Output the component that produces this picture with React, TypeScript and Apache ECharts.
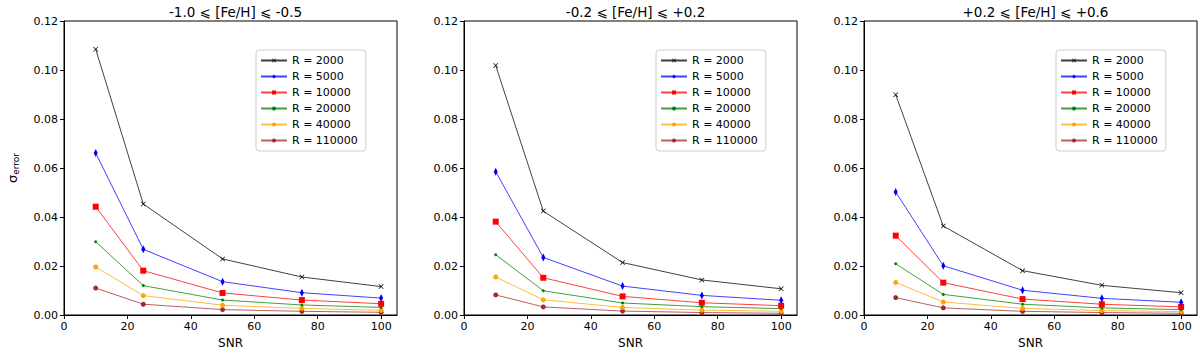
import React, { useEffect, useRef } from "react";
import * as echarts from "echarts";

const snr = [10, 25, 50, 75, 100];
const seriesNames = ["R = 2000", "R = 5000", "R = 10000", "R = 20000", "R = 40000", "R = 110000"];
const colors = ["#000000", "#0000ff", "#ff0000", "#008000", "#ffa500", "#a52a2a"];
const panelTitles = ["-1.0 ⩽ [Fe/H] ⩽ -0.5", "-0.2 ⩽ [Fe/H] ⩽ +0.2", "+0.2 ⩽ [Fe/H] ⩽ +0.6"];
const xTicks = [0, 20, 40, 60, 80, 100];

const metalPoor = [
  [0.1085, 0.0453, 0.0229, 0.0155, 0.0116],
  [0.0661, 0.0268, 0.0136, 0.0091, 0.0069],
  [0.0442, 0.0181, 0.009, 0.0061, 0.0046],
  [0.0299, 0.012, 0.0061, 0.0041, 0.0031],
  [0.0196, 0.0079, 0.004, 0.0027, 0.0019],
  [0.011, 0.0044, 0.0022, 0.0015, 0.0011],
];
const solar = [
  [0.1018, 0.0424, 0.0214, 0.0143, 0.0107],
  [0.0585, 0.0235, 0.0118, 0.008, 0.006],
  [0.0381, 0.0152, 0.0076, 0.005, 0.0038],
  [0.0246, 0.0099, 0.0049, 0.0034, 0.0026],
  [0.0155, 0.0062, 0.0031, 0.002, 0.0015],
  [0.0082, 0.0033, 0.0016, 0.001, 0.0007],
];
const metalRich = [
  [0.0899, 0.0363, 0.0181, 0.0121, 0.0091],
  [0.0502, 0.0201, 0.0101, 0.0068, 0.0052],
  [0.0324, 0.0132, 0.0065, 0.0044, 0.0033],
  [0.0209, 0.0084, 0.0044, 0.0029, 0.0022],
  [0.0133, 0.0053, 0.0027, 0.0018, 0.0014],
  [0.0071, 0.0029, 0.0015, 0.001, 0.0007],
];
const panels = [metalPoor, solar, metalRich];

const xMark = "path://M0,1 L1,0 L5,4 L9,0 L10,1 L6,5 L10,9 L9,10 L5,6 L1,10 L0,9 L4,5 Z";
const symbols: any[] = [xMark, "diamond", "rect", "circle", "circle", "circle"];
const symbolSizes: any[] = [5, [4, 8], 6, 3, 5, 5];

const FONT = "DejaVu Sans";

export default function App() {
  const ref = useRef<HTMLDivElement>(null);
  useEffect(() => {
    if (!ref.current) return;
    const chart = echarts.init(ref.current, null, { renderer: "svg" });
    const lefts = [64, 464, 864];
    const W = 333;
    const grids = lefts.map((l) => ({
      left: l,
      top: 21,
      width: W,
      height: 294,
      show: true,
      borderColor: "#000",
      borderWidth: 1,
      backgroundColor: "transparent",
    }));
    const xAxes = lefts.map((_, i) => ({
      type: "value",
      gridIndex: i,
      min: 0,
      max: 105,
      interval: 20,
      name: "SNR",
      nameLocation: "middle",
      nameGap: 22,
      nameTextStyle: { fontFamily: FONT, fontSize: 12, color: "#000" },
      axisLine: { show: true, lineStyle: { color: "#000", width: 1 } },
      axisTick: { show: true, length: 4, lineStyle: { color: "#000" }, customValues: xTicks },
      axisLabel: {
        fontFamily: FONT,
        fontSize: 11,
        color: "#000",
        margin: 6,
        customValues: xTicks,
        formatter: (v: number) => String(v),
      },
      splitLine: { show: false },
    }));
    const yAxes = lefts.map((_, i) => ({
      type: "value",
      gridIndex: i,
      min: 0,
      max: 0.12,
      interval: 0.02,
      name: i === 0 ? "{a|σ}{b|error}" : "",
      nameLocation: "middle",
      nameGap: 44,
      nameRotate: 90,
      nameTextStyle: {
        fontFamily: FONT,
        color: "#000",
        rich: {
          a: { fontFamily: FONT, fontSize: 13, color: "#000" },
          b: { fontFamily: FONT, fontSize: 9, color: "#000", padding: [6, 0, 0, 0] },
        },
      },
      axisLine: { show: true, lineStyle: { color: "#000", width: 1 } },
      axisTick: { show: true, length: 4, lineStyle: { color: "#000" } },
      axisLabel: {
        fontFamily: FONT,
        fontSize: 11,
        color: "#000",
        margin: 6,
        formatter: (v: number) => v.toFixed(2),
      },
      splitLine: { show: false },
    }));
    const series: any[] = [];
    panels.forEach((panel, p) => {
      panel.forEach((vals, s) => {
        series.push({
          type: "line",
          name: seriesNames[s],
          xAxisIndex: p,
          yAxisIndex: p,
          data: snr.map((x, k) => [x, vals[k]]),
          symbol: symbols[s],
          symbolSize: symbolSizes[s],
          showSymbol: true,
          color: colors[s],
          lineStyle: { color: colors[s], width: 1, opacity: 0.75 },
          itemStyle: { color: colors[s] },
          z: 10 - s,
        });
      });
    });
    const titles = lefts.map((l, i) => ({
      text: panelTitles[i],
      left: l + W / 2,
      top: 0,
      textAlign: "center",
      textStyle: { fontFamily: FONT, fontSize: 13.5, fontWeight: "normal", color: "#000" },
    }));
    const legends = lefts.map((l) => ({
      data: seriesNames,
      orient: "vertical",
      left: l + 192,
      top: 50,
      padding: [4, 8, 4, 4],
      itemWidth: 26,
      itemHeight: 5,
      itemGap: 3,
      backgroundColor: "#fff",
      borderColor: "#d0d0d0",
      borderWidth: 1,
      borderRadius: 3,
      textStyle: { fontFamily: FONT, fontSize: 11, color: "#000", lineHeight: 13 },
      selectedMode: false,
    }));
    chart.setOption({
      animation: false,
      backgroundColor: "#fff",
      title: titles,
      grid: grids,
      xAxis: xAxes,
      yAxis: yAxes,
      legend: legends,
      series,
    });
    return () => chart.dispose();
  }, []);
  return (
    <div
      ref={ref}
      style={{ position: "fixed", left: 0, top: 0, width: 1200, height: 359 }}
    />
  );
}
